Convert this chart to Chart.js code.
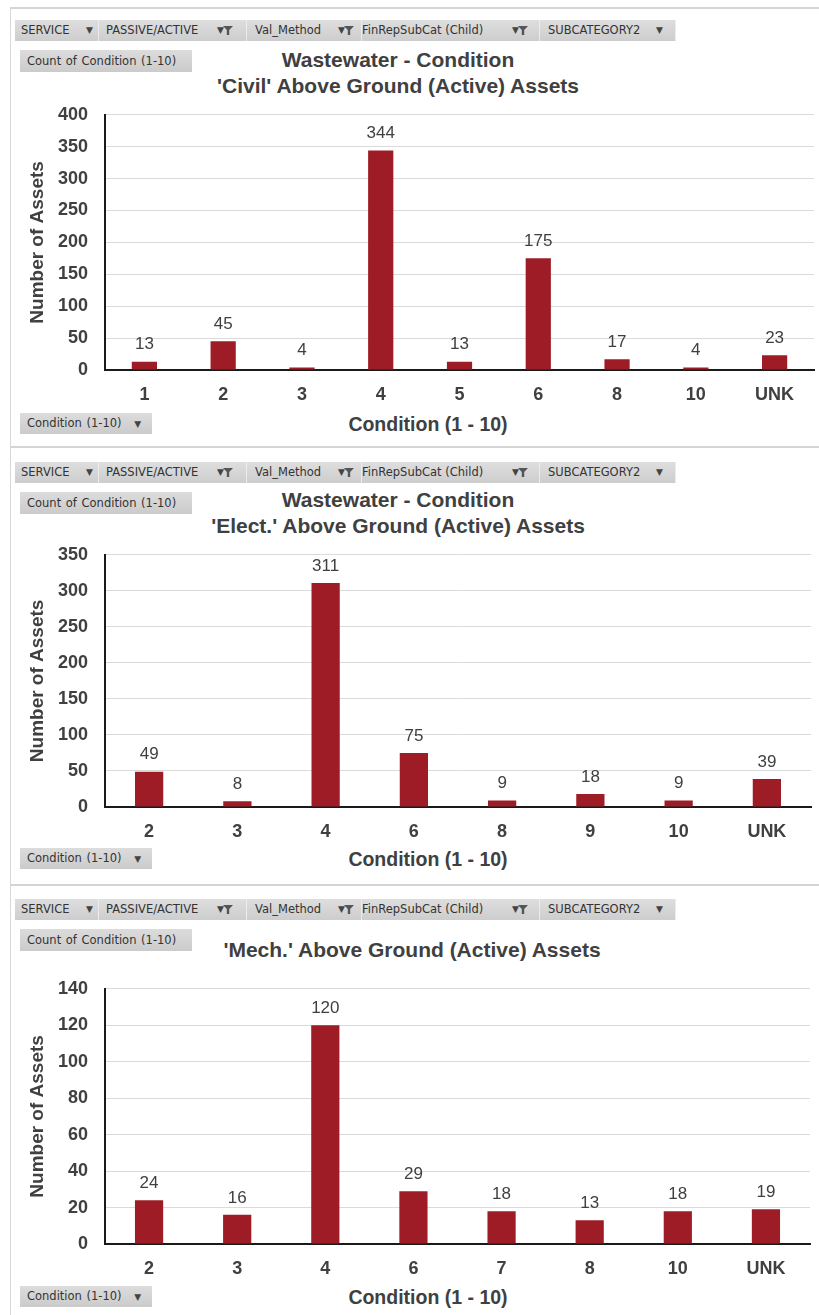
<!DOCTYPE html>
<html>
<head>
<meta charset="utf-8">
<title>Wastewater - Condition of Above Ground (Active) Assets</title>
<script src="https://cdn.jsdelivr.net/npm/chart.js@4.4.1/dist/chart.umd.min.js"></script>
<style>
  html, body { margin: 0; padding: 0; background: #ffffff; }
  body { width: 819px; height: 1315px; position: relative; overflow: hidden; font-family: "Liberation Sans", Arial, sans-serif; }
  .panel { position: absolute; left: 10px; width: 820px; border-top: 2px solid #d4d4d4; border-left: 1px solid #d8d8d8; box-sizing: border-box; }
  .fieldbar { position: absolute; left: 15px; height: 21px; background: linear-gradient(#dedede, #cdcdcd); }
  .btn { position: absolute; top: 0; height: 21px; font-family: "DejaVu Sans", sans-serif; font-size: 11.5px; color: #333; line-height: 21px; white-space: nowrap; border-right: 1px solid #ececec; box-sizing: border-box; }
  .btn .t { position: absolute; top: 0; }
  .drop { position: absolute; top: 0; font-size: 9px; color: #444; }
  .funnel { position: absolute; top: 6px; width: 10px; height: 9px; background: #555; clip-path: polygon(0 0, 100% 0, 62% 45%, 62% 100%, 38% 100%, 38% 45%); }
  .pill { position: absolute; height: 22px; line-height: 22px; font-family: "DejaVu Sans", sans-serif; font-size: 11.5px; color: #333; background: linear-gradient(#dcdcdc, #cbcbcb); white-space: nowrap; word-spacing: 1px; }
  .title { position: absolute; left: 0; font-weight: bold; font-size: 21px; color: #404040; text-align: center; line-height: 26px; white-space: nowrap; }
  .xtitle { position: absolute; font-weight: bold; font-size: 19.5px; color: #404040; white-space: nowrap; transform: translate(-50%, -50%); }
  canvas { position: absolute; left: 0; }
</style>
</head>
<body>

<div class="panel" style="top:7px;height:441px;"></div>
<div class="panel" style="top:446px;height:440px;"></div>
<div class="panel" style="top:884px;height:440px;"></div>

<div id="ui"></div>

<canvas id="civilChart" width="819" height="323" style="top:87px;"></canvas>
<canvas id="elecChart" width="819" height="320" style="top:527px;"></canvas>
<canvas id="mechChart" width="819" height="323" style="top:961px;"></canvas>

<script>
// Condition counts per asset group
const civilConditions = ['1', '2', '3', '4', '5', '6', '8', '10', 'UNK'];
const civilCounts = [13, 45, 4, 344, 13, 175, 17, 4, 23];

const elecConditions = ['2', '3', '4', '6', '8', '9', '10', 'UNK'];
const elecCounts = [49, 8, 311, 75, 9, 18, 9, 39];

const mechConditions = ['2', '3', '4', '6', '7', '8', '10', 'UNK'];
const mechCounts = [24, 16, 120, 29, 18, 13, 18, 19];

// Value axis ranges
const civilAxis = { max: 400, step: 50 };
const elecAxis = { max: 350, step: 50 };
const mechAxis = { max: 140, step: 20 };

// Chart headings
const civilTitle = ['Wastewater - Condition', "'Civil' Above Ground (Active) Assets"];
const elecTitle = ['Wastewater - Condition', "'Elect.' Above Ground (Active) Assets"];
const mechTitle = ["'Mech.' Above Ground (Active) Assets"];

const valueAxisTitle = 'Number of Assets';
const categoryAxisTitle = 'Condition (1 - 10)';
const pivotFields = ['SERVICE', 'PASSIVE/ACTIVE', 'Val_Method', 'FinRepSubCat (Child)', 'SUBCATEGORY2'];
const valueField = 'Count of Condition (1-10)';
const axisField = 'Condition (1-10)';

const BAR_RED = '#9d1c26';
const TEXT_GREY = '#404040';

// ---- Pivot chart field buttons and headings ----
const ui = document.getElementById('ui');
function el(cls, style, html) {
  const d = document.createElement('div');
  d.className = cls;
  d.setAttribute('style', style);
  if (html !== undefined) d.innerHTML = html;
  ui.appendChild(d);
  return d;
}

// button layout: [left, width, text offset, dropdown offset, funnel offset or null]
const fieldLayout = [
  [0, 84, 6, 71, null],
  [84, 148, 7, 118, 124],
  [232, 115, 8, 91, 97],
  [347, 178, 0, 150, 156],
  [525, 136, 8, 116, null]
];

function drawPanelChrome(top, titleLines, titleCenter, titleTop, xTitleY) {
  const bar = el('fieldbar', 'top:' + top + 'px;width:661px;');
  pivotFields.forEach((name, i) => {
    const [l, w, to, dro, fo] = fieldLayout[i];
    const b = document.createElement('div');
    b.className = 'btn';
    b.style.left = l + 'px';
    b.style.width = w + 'px';
    let html = '<span class="t" style="left:' + to + 'px">' + name + '</span>' +
               '<span class="drop" style="left:' + dro + 'px">&#9660;</span>';
    if (fo !== null) html += '<span class="funnel" style="left:' + fo + 'px"></span>';
    b.innerHTML = html;
    bar.appendChild(b);
  });
  el('pill', 'left:20px;top:' + (top + 30) + 'px;width:172px;padding-left:7px;box-sizing:border-box;', valueField);
  el('title', 'top:' + titleTop + 'px;width:' + (titleCenter * 2) + 'px;', titleLines.join('<br>'));
  el('pill', 'left:20px;top:' + (xTitleY - 11) + 'px;width:132px;padding-left:7px;box-sizing:border-box;height:21px;line-height:21px;',
     axisField + ' <span style="font-size:9px;margin-left:8px;color:#444">&#9660;</span>');
  el('xtitle', 'left:428px;top:' + xTitleY + 'px;', categoryAxisTitle);
}

drawPanelChrome(20, civilTitle, 398, 47, 424);
drawPanelChrome(462, elecTitle, 398, 487, 859);
drawPanelChrome(899, mechTitle, 412, 937, 1297);

// ---- Value labels above each bar ----
const barValueLabels = {
  id: 'barValueLabels',
  afterDatasetsDraw(chart) {
    const ctx = chart.ctx;
    ctx.save();
    ctx.font = '17px "Liberation Sans", Arial, sans-serif';
    ctx.fillStyle = TEXT_GREY;
    ctx.textAlign = 'center';
    ctx.textBaseline = 'middle';
    chart.data.datasets.forEach((ds, di) => {
      chart.getDatasetMeta(di).data.forEach((bar, i) => {
        ctx.fillText(String(ds.data[i]), bar.x, bar.y - 17);
      });
    });
    ctx.restore();
  }
};

function buildChart(id, labels, values, axis, rightPad) {
  return new Chart(document.getElementById(id), {
    type: 'bar',
    data: {
      labels: labels,
      datasets: [{
        label: valueField,
        data: values,
        backgroundColor: BAR_RED,
        borderWidth: 0,
        categoryPercentage: 1,
        barPercentage: 0.32
      }]
    },
    options: {
      responsive: false,
      animation: false,
      devicePixelRatio: 1,
      layout: { padding: { top: 16, right: rightPad, left: 0, bottom: 0 } },
      plugins: { legend: { display: false }, tooltip: { enabled: false }, title: { display: false } },
      scales: {
        x: {
          offset: true,
          grid: { display: false },
          border: { display: true, color: '#1a1a1a', width: 2 },
          ticks: {
            padding: 6,
            color: TEXT_GREY,
            font: { family: '"Liberation Sans", Arial, sans-serif', size: 18, weight: 'bold' },
            maxRotation: 0,
            autoSkip: false
          },
          afterFit(scale) { scale.height = 40; }
        },
        y: {
          min: 0,
          max: axis.max,
          grid: { color: '#dadada', lineWidth: 1, drawTicks: false },
          border: { display: true, color: '#1a1a1a', width: 2 },
          ticks: {
            stepSize: axis.step,
            padding: 17,
            color: TEXT_GREY,
            font: { family: '"Liberation Sans", Arial, sans-serif', size: 18, weight: 'bold' }
          },
          title: {
            display: true,
            text: valueAxisTitle,
            color: TEXT_GREY,
            padding: { top: 26, bottom: 0 },
            font: { family: '"Liberation Sans", Arial, sans-serif', size: 19, weight: 'bold' }
          },
          afterFit(scale) { scale.width = 105; }
        }
      }
    },
    plugins: [barValueLabels]
  });
}

buildChart('civilChart', civilConditions, civilCounts, civilAxis, 5);
buildChart('elecChart', elecConditions, elecCounts, elecAxis, 8);
buildChart('mechChart', mechConditions, mechCounts, mechAxis, 9);
</script>
</body>
</html>
